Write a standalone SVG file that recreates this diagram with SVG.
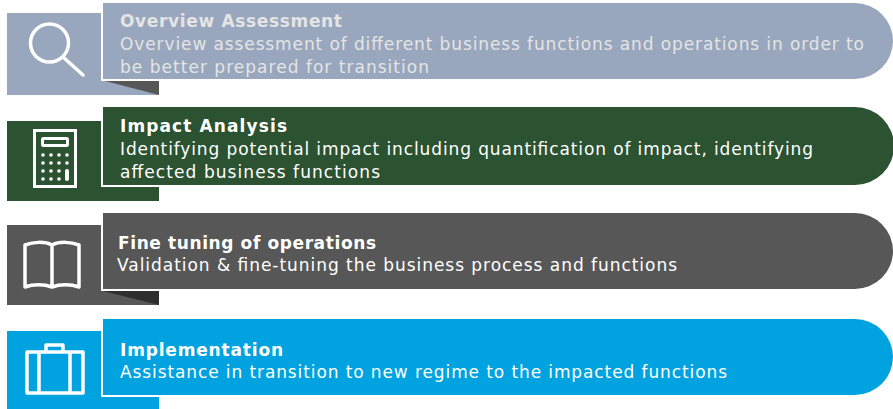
<svg xmlns="http://www.w3.org/2000/svg" width="893" height="409" viewBox="0 0 893 409">
<style>
text{font-family:"DejaVu Sans",sans-serif;font-size:17px;fill:#fff}
.t{font-weight:700}
.f{fill:#e4e4e4}
.i{fill:none;stroke:#fff;stroke-width:3.5;stroke-linecap:round;stroke-linejoin:round}
.w{fill:none;stroke:#fff;stroke-width:2}
.d{fill:#fff}
</style>
<rect width="893" height="409" fill="#fff"/>
<g id="node-overview">
<rect x="7" y="13" width="152" height="82" fill="#98a7bd"/>
<path d="M105 81H159V95Z" fill="#575757"/>
<path d="M102 3H855A38 38 0 0 1 855 79H102Z" fill="#98a7bd"/>
<path class="w" d="M102 3V80H159"/>
<circle class="i" cx="49.500" cy="43" r="19"/>
<path class="i" d="M63 57L83 75"/>
<text class="t f" x="120" y="27" textLength="222">Overview Assessment</text>
<text class="f" x="120" y="49.500" textLength="744">Overview assessment of different business functions and operations in order to</text>
<text class="f" x="120" y="72.500" textLength="309">be better prepared for transition</text>
</g>
<g id="node-impact">
<rect x="7" y="121" width="152" height="80" fill="#2b5231"/>
<path d="M102 107H855A39 39 0 0 1 855 185H102Z" fill="#2b5231"/>
<path class="w" d="M102 107V186H159"/>
<rect x="34.500" y="130.500" width="41" height="56" fill="none" stroke="#fff" stroke-width="3"/>
<rect x="42.500" y="138.500" width="25" height="7" rx="1" fill="none" stroke="#fff" stroke-width="3"/>
<g class="d">
<circle cx="43" cy="155" r="1.800"/><circle cx="51" cy="155" r="1.800"/><circle cx="59" cy="155" r="1.800"/><circle cx="67" cy="155" r="1.800"/>
<circle cx="43" cy="163" r="1.800"/><circle cx="51" cy="163" r="1.800"/><circle cx="59" cy="163" r="1.800"/><circle cx="67" cy="163" r="1.800"/>
<circle cx="43" cy="171" r="1.800"/><circle cx="51" cy="171" r="1.800"/><circle cx="59" cy="171" r="1.800"/>
<circle cx="43" cy="179" r="1.800"/><circle cx="51" cy="179" r="1.800"/><circle cx="59" cy="179" r="1.800"/>
<rect x="65" y="169" width="4" height="12" rx="2"/>
</g>
<text class="t" x="120" y="132" textLength="167">Impact Analysis</text>
<text x="120" y="154.500" textLength="693">Identifying potential impact including quantification of impact, identifying</text>
<text x="120" y="178" textLength="260">affected business functions</text>
</g>
<g id="node-finetuning">
<rect x="7" y="225" width="152" height="80" fill="#575757"/>
<path d="M103 291H159V305Z" fill="#2e2e2e"/>
<path d="M102 213H855A38 38 0 0 1 855 289H102Z" fill="#575757"/>
<path class="w" d="M102 213V290H159"/>
<path class="i" stroke-width="3" d="M52 245C44 241 33 242 25 245V287C33 284 44 284 52 287C60 284 71 284 79 287V245C71 242 60 241 52 245V287"/>
<text class="t" x="118" y="249" textLength="258">Fine tuning of operations</text>
<text x="117" y="270.500" textLength="560">Validation &amp; fine-tuning the business process and functions</text>
</g>
<g id="node-implementation">
<rect x="7" y="331" width="152" height="78" fill="#00a3e0"/>
<path d="M102 319H855A38 38 0 0 1 855 395H102Z" fill="#00a3e0"/>
<path class="w" d="M102 319V396H159"/>
<path class="i" stroke-width="3" d="M27 352H83V393H27ZM39 352V393M70 352V393M46 352V345H63V352"/>
<text class="t" x="120" y="355.500" textLength="163">Implementation</text>
<text x="120" y="377.500" textLength="607">Assistance in transition to new regime to the impacted functions</text>
</g>
<g id="connectors"></g>
</svg>
